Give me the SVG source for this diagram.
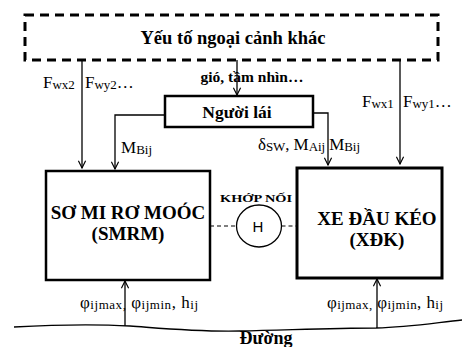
<svg xmlns="http://www.w3.org/2000/svg" width="462" height="347" viewBox="0 0 462 347">
  <style>
    text { font-family: 'Liberation Serif', 'Times New Roman', serif; fill: #000; }
    .b { font-weight: bold; }
    .box { fill: #fff; stroke: #000; }
    .ln { fill: none; stroke: #000; stroke-width: 1.3; }
    .dash { fill: none; stroke: #000; stroke-width: 1.2; stroke-dasharray: 4 3; }
    .sub { font-size: 13px; }
  </style>
  <defs>
    <marker id="arr" viewBox="0 0 10 10" refX="9" refY="5" markerWidth="9" markerHeight="9" markerUnits="userSpaceOnUse" orient="auto">
      <path d="M1,1 L9,5 L1,9" fill="none" stroke="#000" stroke-width="1.3"/>
    </marker>
  </defs>
  <rect width="462" height="347" fill="#fff"/>

  <g id="ngoai-canh">
    <rect x="25" y="15" width="413" height="45" fill="none" stroke="#000" stroke-width="3" stroke-dasharray="9 6"/>
    <text class="b" x="233" y="44" font-size="18.5" text-anchor="middle">Yếu tố ngoại cảnh khác</text>
  </g>

  <g id="nguoi-lai">
    <rect class="box" x="165" y="96" width="148" height="31" stroke-width="2.5"/>
    <text class="b" x="237" y="118" font-size="17.5" text-anchor="middle">Người lái</text>
  </g>

  <g id="smrm">
    <rect class="box" x="46" y="171" width="164" height="109" stroke-width="2.5"/>
    <text class="b" x="128" y="219" font-size="19" text-anchor="middle">SƠ MI RƠ MOÓC</text>
    <text class="b" x="128" y="240" font-size="19" text-anchor="middle">(SMRM)</text>
  </g>

  <g id="xdk">
    <rect class="box" x="297" y="168" width="145" height="110" stroke-width="3"/>
    <text class="b" x="377" y="225" font-size="19" text-anchor="middle">XE ĐẦU KÉO</text>
    <text class="b" x="377" y="246" font-size="19" text-anchor="middle">(XĐK)</text>
  </g>

  <g id="khop-noi">
    <text class="b" x="220" y="202" font-size="11" textLength="72" lengthAdjust="spacingAndGlyphs">KHỚP NỐI</text>
    <ellipse cx="259" cy="226" rx="22.5" ry="21" fill="#fff" stroke="#000" stroke-width="1.3"/>
    <text x="258" y="232" style="font-family: 'Liberation Sans', Arial, sans-serif" font-size="15" text-anchor="middle">H</text>
  </g>

  <g id="duong">
    <path class="ln" d="M14,327 C50,325 95,324 130,326 C170,329 200,332 240,331 C290,330 330,328 376,328 C410,327 440,322 462,320"/>
    <text class="b" x="266" y="344" font-size="18" text-anchor="middle">Đường</text>
  </g>

  <g id="connectors">
    <!-- environment to driver -->
    <path class="ln" d="M237,60 V95" marker-end="url(#arr)"/>
    <!-- environment forces -->
    <path class="ln" d="M82,60 V168" marker-end="url(#arr)"/>
    <path class="ln" d="M400,60 V164" marker-end="url(#arr)"/>
    <!-- driver outputs -->
    <path class="ln" d="M165,115 H115 V169" marker-end="url(#arr)"/>
    <path class="ln" d="M313,113 H328 V165" marker-end="url(#arr)"/>
    <!-- coupling -->
    <path class="dash" d="M210,226 H236.5"/>
    <path class="dash" d="M281.5,226 H297"/>
    <!-- road inputs -->
    <path class="ln" d="M125,326 V281" marker-end="url(#arr)"/>
    <path class="ln" d="M377,328 V279" marker-end="url(#arr)"/>
  </g>

  <g id="labels" font-size="17">
    <text class="b" x="252" y="82" font-size="15.5" text-anchor="middle">gió, tầm nhìn…</text>
    <text x="43" y="88">F<tspan class="sub" dy="1">wx2</tspan></text>
    <text x="85" y="88">F<tspan class="sub" dy="1">wy2</tspan><tspan dy="-1">…</tspan></text>
    <text x="362" y="107">F<tspan class="sub" dy="1">wx1</tspan></text>
    <text x="403" y="107">F<tspan class="sub" dy="1">wy1</tspan><tspan dy="-1">…</tspan></text>
    <text x="121" y="153">M<tspan class="sub" dy="1">Bij</tspan></text>
    <text x="258" y="150" textLength="102">δ<tspan class="sub" dy="1">SW</tspan><tspan dy="-1">, M</tspan><tspan class="sub" dy="1">Aij</tspan><tspan dy="-1"> M</tspan><tspan class="sub" dy="1">Bij</tspan></text>
    <text x="80" y="308" textLength="118">φ<tspan class="sub" dy="1">ijmax,</tspan><tspan dy="-1"> φ</tspan><tspan class="sub" dy="1">ijmin</tspan><tspan dy="-1">, h</tspan><tspan class="sub" dy="1">ij</tspan></text>
    <text x="327" y="308" textLength="116">φ<tspan class="sub" dy="1">ijmax,</tspan><tspan dy="-1"> φ</tspan><tspan class="sub" dy="1">ijmin</tspan><tspan dy="-1">, h</tspan><tspan class="sub" dy="1">ij</tspan></text>
  </g>
</svg>
